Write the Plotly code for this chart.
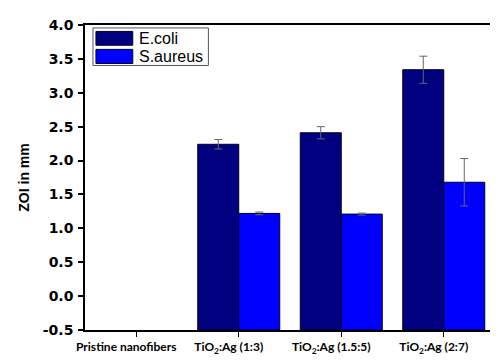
import plotly.graph_objects as go

categories = ["Pristine nanofibers", "TiO2:Ag (1:3)", "TiO2:Ag (1.5:5)", "TiO2:Ag (2:7)"]
tick_labels = ["Pristine nanofibers", "TiO<sub>2</sub>:Ag (1:3)", "TiO<sub>2</sub>:Ag (1.5:5)", "TiO<sub>2</sub>:Ag (2:7)"]
ecoli = [None, 2.24, 2.41, 3.34]
ecoli_err = [0, 0.07, 0.09, 0.20]
saureus = [None, 1.22, 1.21, 1.68]
saureus_err = [0, 0.02, 0.015, 0.35]
series_names = ["E.coli", "S.aureus"]
series_colors = ["#000080", "#0000FF"]
y_base = -0.5

W, H = 498, 362
ML, MR, MT, MB = 77, 9, 13, 40
PW, PH = W - ML - MR, H - MT - MB

def px_x(p):
    return (p - ML) / PW

def px_y(p):
    return (H - MB - p) / PH

fig = go.Figure()
for name, vals, errs, col in [(series_names[0], ecoli, ecoli_err, series_colors[0]),
                              (series_names[1], saureus, saureus_err, series_colors[1])]:
    heights = [None if v is None else v - y_base for v in vals]
    fig.add_trace(go.Bar(
        x=categories, y=heights, base=y_base, name=name,
        marker=dict(color=col, line=dict(color="#000022", width=1)),
        error_y=dict(type="data", array=errs, visible=True, color="#666666",
                     thickness=1, width=4),
        showlegend=False,
    ))

# custom legend
shapes = [dict(type="rect", xref="paper", yref="paper",
               x0=px_x(85), x1=px_x(201), y0=px_y(54), y1=px_y(16),
               line=dict(color="#555555", width=1), fillcolor="white", layer="above")]
annotations = []
rows = [(19.5, 33.5), (37.7, 52.0)]
for (t, b), name, col in zip(rows, series_names, series_colors):
    shapes.append(dict(type="rect", xref="paper", yref="paper",
                       x0=px_x(88), x1=px_x(125), y0=px_y(b), y1=px_y(t),
                       line=dict(color="#000022", width=1), fillcolor=col, layer="above"))
    annotations.append(dict(xref="paper", yref="paper", x=px_x(129), y=px_y((t + b) / 2),
                            text=name, showarrow=False, xanchor="left", yanchor="middle",
                            font=dict(family="Liberation Sans, Arial", size=16, color="black")))

fig.update_layout(
    width=W, height=H,
    margin=dict(l=ML, r=MR, t=MT, b=MB),
    paper_bgcolor="white", plot_bgcolor="white",
    barmode="group", bargap=0.2, bargroupgap=0,
    shapes=shapes, annotations=annotations,
    showlegend=False,
)
fig.update_xaxes(
    type="category", categoryorder="array", categoryarray=categories,
    tickmode="array", tickvals=categories, ticktext=tick_labels,
    range=[-0.5, 3.5],
    showline=True, linecolor="black", linewidth=1.5, mirror=True,
    ticks="outside", ticklen=5, tickcolor="black", tickwidth=1,
    tickfont=dict(family="Lato, Liberation Sans", size=12, color="black", weight="bold"),
    ticklabelshift=-10,
    showgrid=False, zeroline=False,
)
fig.update_yaxes(
    range=[-0.5, 4.0], tickmode="array",
    tickvals=[-0.5, 0, 0.5, 1.0, 1.5, 2.0, 2.5, 3.0, 3.5, 4.0],
    ticktext=["-0.5", "0.0", "0.5", "1.0", "1.5", "2.0", "2.5", "3.0", "3.5", "4.0"],
    showline=True, linecolor="black", linewidth=1.5, mirror=True,
    ticks="outside", ticklen=5, tickcolor="black", tickwidth=1.5,
    tickfont=dict(family="DejaVu Sans", size=14, color="black", weight="bold"),
    ticklabelstandoff=2,
    title=dict(text="ZOI in mm", standoff=10,
               font=dict(family="Liberation Sans, Arial", size=14, color="black", weight="bold")),
    showgrid=False, zeroline=False,
)

fig.write_html("out.html")
